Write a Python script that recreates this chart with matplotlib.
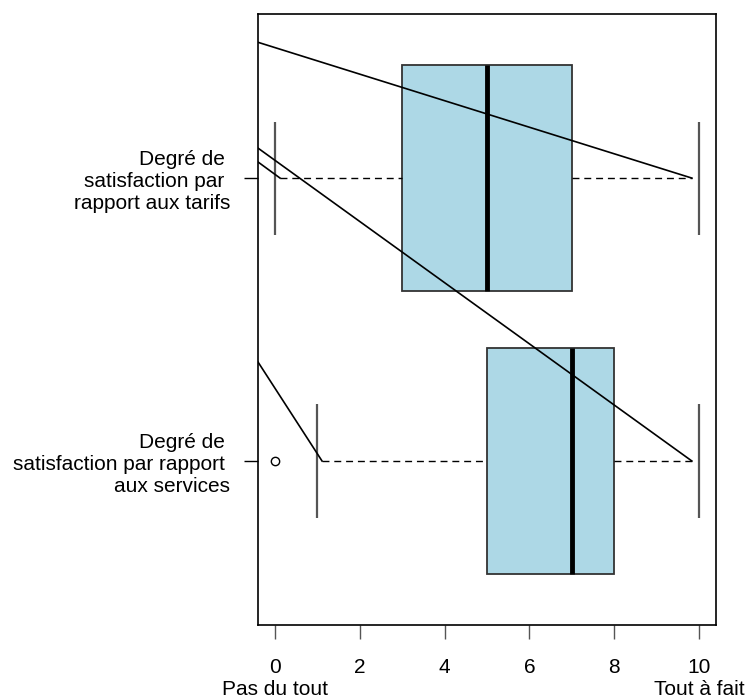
import matplotlib
matplotlib.use('Agg')
import matplotlib.pyplot as plt

plt.rcParams['font.family'] = ['Liberation Sans', 'DejaVu Sans']

# ---- données des deux boîtes (position 1 = services, 2 = tarifs) ----
positions = [1, 2]
labels = ["Degré de \nsatisfaction par rapport \naux services",
          "Degré de \nsatisfaction par \nrapport aux tarifs"]
whisker_lo = [1, 0]
q1 = [5, 3]
median = [7, 5]
q3 = [8, 7]
whisker_hi = [10, 10]
outliers_x = [0]
outliers_y = [1]

# extrémités des moustaches en pointillés
dash_lo = [1.11, 0.12]
dash_hi = [9.83, 9.83]

# segments de liaison (x0, y0, x1, y1)
link_x0 = [-0.4, -0.4, -0.4, -0.4]
link_y0 = [2.48, 2.106, 2.057, 1.35]
link_x1 = [9.83, 9.83, 0.12, 1.11]
link_y1 = [2.0, 1.0, 2.0, 1.0]

xticks = [0, 2, 4, 6, 8, 10]
xticklabels = ["0\nPas du tout", "2", "4", "6", "8", "10\nTout à fait"]

fig = plt.figure(figsize=(7.5, 7), dpi=100)
ax = fig.add_axes([0.344, 0.107, 0.6107, 0.873])

# boîtes
widths = [b - a for a, b in zip(q1, q3)]
ax.barh(positions, widths, left=q1, height=0.8, color='#ADD8E6',
        edgecolor='#333333', linewidth=1.3, zorder=2)
ax.vlines(median, [p - 0.4 for p in positions], [p + 0.4 for p in positions],
          color='black', linewidth=3.5, zorder=3)

# moustaches
ax.hlines(positions, dash_lo, q1, color='black', linestyle=(0, (5, 3.5)),
          linewidth=1.0, zorder=2)
ax.hlines(positions, q3, dash_hi, color='black', linestyle=(0, (5, 3.5)),
          linewidth=1.0, zorder=2)
for lo, hi, p in zip(whisker_lo, whisker_hi, positions):
    ax.vlines([lo, hi], p - 0.2, p + 0.2, color='#555555', linewidth=1.6, zorder=2)

# valeurs aberrantes
ax.plot(outliers_x, outliers_y, 'o', mfc='none', mec='black', ms=6, mew=1, zorder=3)

# traits de liaison
for x0, y0, x1, y1 in zip(link_x0, link_y0, link_x1, link_y1):
    ax.plot([x0, x1], [y0, y1], color='black', linewidth=1.2, zorder=4)

ax.set_xlim(-0.4, 10.4)
ax.set_ylim(0.42, 2.58)

ax.set_xticks(xticks)
ax.set_xticklabels(xticklabels, fontsize=15, linespacing=1.15)
ax.set_yticks(positions)
ax.set_yticklabels(labels, fontsize=15, linespacing=1.2, multialignment='right')
ax.tick_params(axis='x', length=10, width=1, color='#555555', pad=14)
ax.tick_params(axis='y', length=10, width=1, color='black', pad=10)

for s in ax.spines.values():
    s.set_linewidth(1.2)
    s.set_color('black')

fig.savefig('out.png', dpi=100)
